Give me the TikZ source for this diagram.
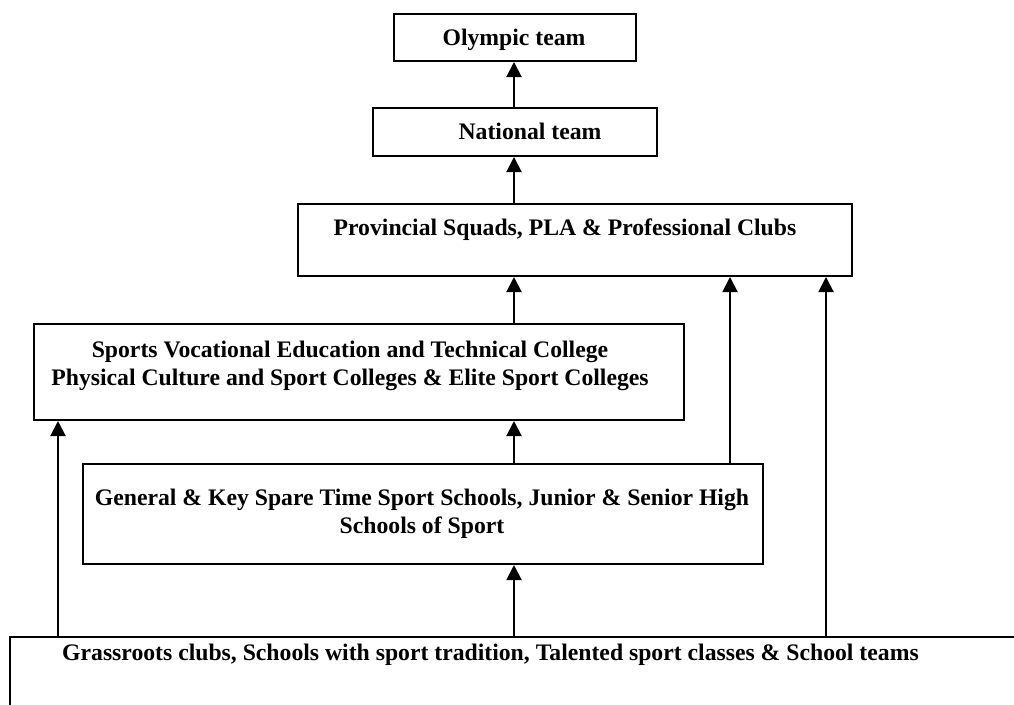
\documentclass[tikz,border=0pt]{standalone}
\usepackage{fontspec}
\setmainfont{Liberation Serif}
\usetikzlibrary{arrows.meta}
\tikzset{
	box/.style={draw, line width=2pt, rectangle, inner sep=0pt, anchor=north west},
	lbl/.style={font=\fontsize{23.7}{27.3}\selectfont\bfseries, inner sep=0pt, anchor=base, align=center},
	uparr/.style={line width=2pt, -{Triangle[length=15pt,width=15pt]}}
}
\begin{document}
\begin{tikzpicture}[x=1pt,y=-1pt]
	\clip (0,0) rectangle (1014,704);% page size
	\coordinate (ColL)  at (58,0);
	\coordinate (ColM)  at (514,0);
	\coordinate (ColR1) at (730,0);
	\coordinate (ColR2) at (826,0);
	
	% the boxes, top to bottom
	\node[box, minimum width=242pt, minimum height=47pt]   (Oly)   at (393,13)  {};
	\node[box, minimum width=284pt, minimum height=48pt]   (Nat)   at (372,107) {};
	\node[box, minimum width=554pt, minimum height=72pt]   (Prov)  at (297,203) {};
	\node[box, minimum width=650pt, minimum height=96pt]   (Voc)   at (33,323)  {};
	\node[box, minimum width=680pt, minimum height=100pt]  (Gen)   at (82,463)  {};
	\node[box, minimum width=1040pt, minimum height=100pt] (Grass) at (9,636)   {};
	
	% texts (base of a two-line text = its last line)
	\node[lbl] (OlyTxt)  at (514,45)  {Olympic team};
	\node[lbl] (NatTxt)  at (530,139) {National team};
	\node[lbl] (ProvTxt) at (565,235) {Provincial Squads, PLA \& Professional Clubs};
	\node[lbl] (VocTxt)  at (350,385) {Sports Vocational Education and Technical College\\Physical Culture and Sport Colleges \& Elite Sport Colleges};
	\node[lbl] (GenTxt)  at (422,533) {General \& Key Spare Time Sport Schools, Junior \& Senior High\\Schools of Sport};
	\node[lbl, anchor=base west] (GrassTxt) at (62,660) {Grassroots clubs, Schools with sport tradition, Talented sport classes \& School teams};
	
	% arrows
	\draw[uparr] (Nat.north -| ColM)    -- (Oly.south -| ColM);
	\draw[uparr] (Prov.north -| ColM)   -- (Nat.south -| ColM);
	\draw[uparr] (Voc.north -| ColM)    -- (Prov.south -| ColM);
	\draw[uparr] (Gen.north -| ColM)    -- (Voc.south -| ColM);
	\draw[uparr] (Grass.north -| ColM)  -- (Gen.south -| ColM);
	\draw[uparr] (Grass.north -| ColL)  -- (Voc.south -| ColL);
	\draw[uparr] (Gen.north -| ColR1)   -- (Prov.south -| ColR1);
	\draw[uparr] (Grass.north -| ColR2) -- (Prov.south -| ColR2);
\end{tikzpicture}
\end{document}
